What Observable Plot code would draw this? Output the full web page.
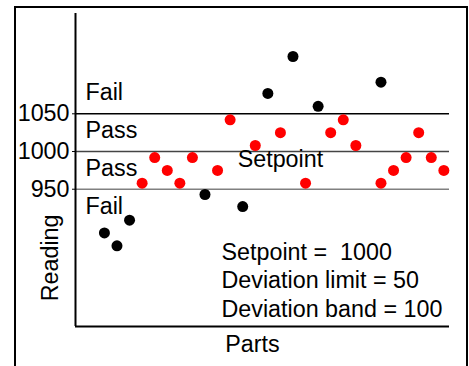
<!DOCTYPE html>
<html>
<head>
<meta charset="utf-8">
<script src="https://cdn.jsdelivr.net/npm/d3@7"></script>
<script src="https://cdn.jsdelivr.net/npm/@observablehq/plot@0.6"></script>
<style>
  html, body { margin: 0; padding: 0; background: white; overflow: hidden; width: 469px; height: 366px; }
  #wrap { position: relative; width: 469px; height: 366px; }
  #border { position: absolute; left: 14px; top: 6px; width: 454px; height: 420px; box-sizing: border-box; border: 2px solid black; pointer-events: none; }
  svg { display: block; }
</style>
</head>
<body>
<div id="wrap"><div id="chart"></div><div id="border"></div></div>
<script>
// Data
const parts    = [1, 2, 3, 4, 5, 6, 7, 8, 9, 10, 11, 12, 13, 14, 15, 16, 17, 18, 19, 20, 21, 23, 23, 24, 25, 26, 27, 28];
const readings = [892, 875, 909, 958, 992, 975, 958, 992, 943, 975, 1042, 927, 1008, 1077, 1025, 1126, 958, 1060, 1025, 1042, 1008, 1092, 958, 975, 992, 1025, 992, 975];

const setpoint = 1000;
const deviationLimit = 50;
const deviationBand = 100;

const yTicks = [950, 1000, 1050];
const zoneLabels = ["Fail", "Pass", "Pass", "Fail"];
const zoneValues = [1075, 1025, 975, 925];
const limitLines = [setpoint + deviationLimit, setpoint, setpoint - deviationLimit];
const limitColors = ["#000000", "#444444", "#808080"];

const xDomain = [-1.3, 28.45];
const yDomain = [768, 1183];

const data = parts.map((p, i) => ({part: p, reading: readings[i], pass: Math.abs(readings[i] - setpoint) <= deviationLimit}));
const lines = limitLines.map((v, i) => ({v, c: limitColors[i]}));
const zones = zoneLabels.map((t, i) => ({t, v: zoneValues[i]}));
const note = `Setpoint =  ${setpoint}\nDeviation limit = ${deviationLimit}\nDeviation band = ${deviationBand}`;

const chart = Plot.plot({
  width: 469,
  height: 366,
  marginLeft: 75,
  marginRight: 20,
  marginTop: 13,
  marginBottom: 40,
  style: {fontFamily: "'Liberation Sans', Arial, sans-serif", fontSize: "23.3px", background: "white", color: "black"},
  x: {domain: xDomain, axis: null},
  y: {domain: yDomain, ticks: yTicks, tickSize: 3, tickPadding: 3, label: null, tickFormat: d => String(d)},
  marks: [
    Plot.ruleY(lines, {y: "v", stroke: "c", strokeWidth: 1.5}),
    Plot.ruleX([xDomain[0]], {stroke: "black", strokeWidth: 2}),
    Plot.ruleY([yDomain[0]], {stroke: "black", strokeWidth: 2}),
    Plot.text(zones, {y: "v", text: "t", frameAnchor: "left", textAnchor: "start", dx: 10, dy: -2, fill: "black"}),
    Plot.text(["Setpoint"], {x: 15, y: 990, text: d => d, fill: "black"}),
    Plot.dot(data.filter(d => !d.pass), {x: "part", y: "reading", r: 5.5, fill: "black"}),
    Plot.dot(data.filter(d => d.pass), {x: "part", y: "reading", r: 5.5, fill: "#ff0000"}),
    Plot.text([note], {frameAnchor: "top-left", text: d => d, textAnchor: "start", lineAnchor: "top", lineHeight: 1.22, dx: 146, dy: 226, fill: "black"}),
    Plot.text(["Parts"], {frameAnchor: "bottom", text: d => d, lineAnchor: "top", dx: -10, dy: 9, fill: "black"}),
    Plot.text(["Reading"], {x: xDomain[0], y: 859, text: d => d, rotate: -90, dx: -25, fill: "black"})
  ]
});
document.getElementById("chart").appendChild(chart);
</script>
</body>
</html>
